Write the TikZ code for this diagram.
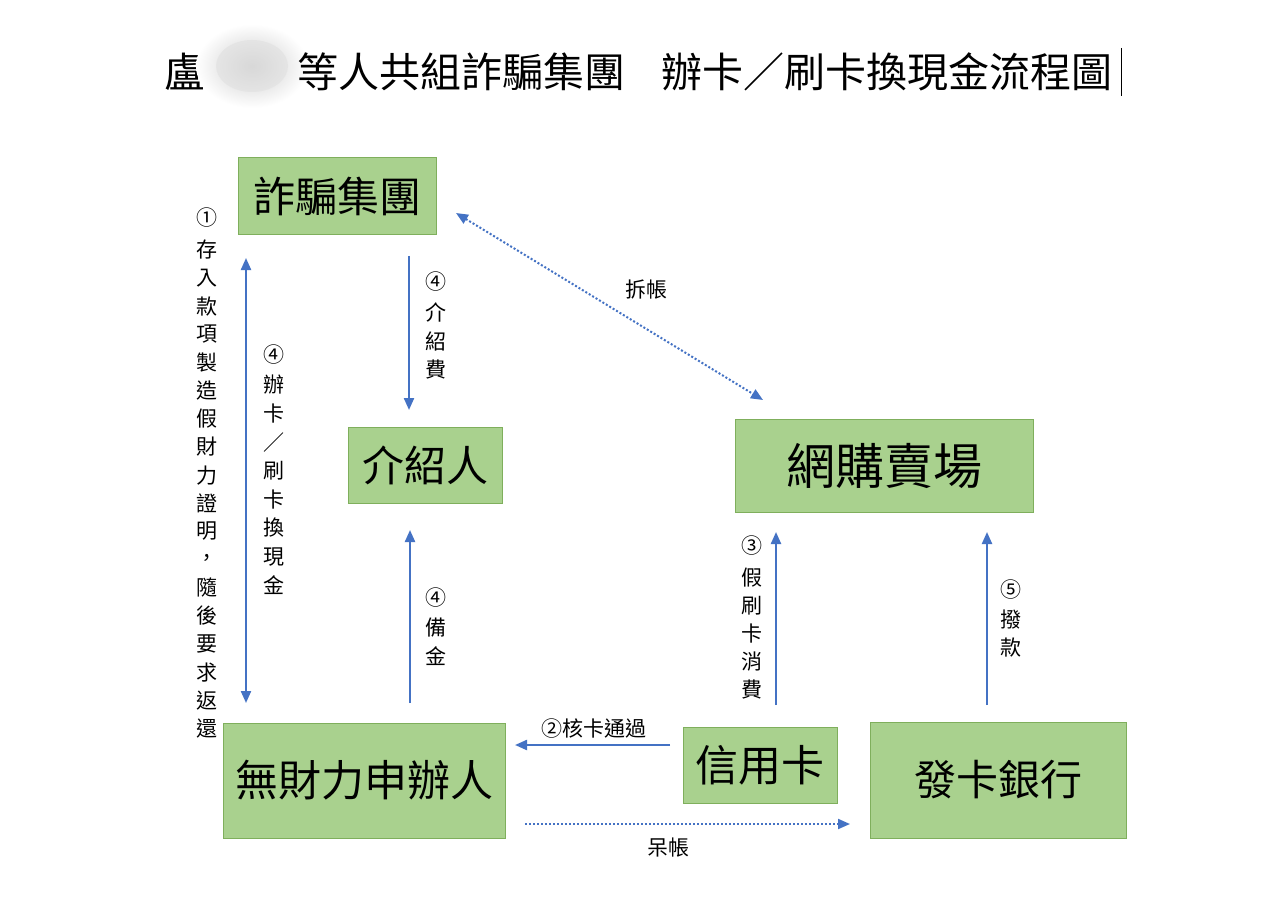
\documentclass[tikz,border=0pt]{standalone}
\usepackage{fontspec}
\setmainfont{Noto Sans CJK TC}
\usetikzlibrary{arrows.meta}
\definecolor{boxfill}{HTML}{A9D18E}
\definecolor{boxline}{HTML}{7FAF5C}
\definecolor{flowblue}{HTML}{4472C4}
\tikzset{
  box/.style={draw=boxline, line width=1pt, fill=boxfill, inner sep=0pt, text=black},
  lab/.style={inner sep=0pt, font=\fontsize{21}{21}\selectfont},
  ttl/.style={inner sep=0pt, font=\fontsize{41}{41}\selectfont},
  flow/.style={draw=flowblue, line width=2.2pt, -{Triangle[length=12pt,width=10pt]}},
  flowdot/.style={draw=flowblue, line width=2pt, dash pattern=on 2pt off 2pt, -{Triangle[length=12pt,width=10pt]}}
}
\begin{document}
\begin{tikzpicture}[x=1pt,y=-1pt]
\useasboundingbox (0,0) rectangle (1284,909);
\fill[white] (0,0) rectangle (1284,909);
% title
\node[ttl] (t1) at (185,72) {盧};
\shade[inner color=black!20, outer color=white] (252,66) ellipse [x radius=56, y radius=42];
\fill[black!12, opacity=0.6] (252,66) ellipse [x radius=36, y radius=26];
\node[ttl] (t2) at (461,72) {等人共組詐騙集團};
\node[ttl] (t3) at (887,72) {辦卡／刷卡換現金流程圖};
\draw[line width=1pt] (1121,48) -- (1121,96);
% boxes
\node[box, minimum width=198pt, minimum height=77pt, font=\fontsize{42}{42}\selectfont] (zp) at (337,196.5) {詐騙集團};
\node[box, minimum width=154pt, minimum height=76pt, font=\fontsize{42}{42}\selectfont] (js) at (425,465) {介紹人};
\node[box, minimum width=298pt, minimum height=93pt, font=\fontsize{49}{49}\selectfont] (wg) at (884,465.5) {網購賣場};
\node[box, minimum width=282pt, minimum height=115pt, font=\fontsize{43}{43}\selectfont] (wc) at (364,780.5) {無財力申辦人};
\node[box, minimum width=154pt, minimum height=76pt, font=\fontsize{43}{43}\selectfont] (xy) at (760,765) {信用卡};
\node[box, minimum width=256pt, minimum height=116pt, font=\fontsize{42}{42}\selectfont] (fk) at (998,780) {發卡銀行};
% connector end points
\coordinate (a1s) at (246,258); \coordinate (a1e) at (246,703);
\coordinate (a2s) at (409,256); \coordinate (a2e) at (409,410);
\coordinate (a3s) at (410,703); \coordinate (a3e) at (410,530);
\coordinate (a4s) at (670,745); \coordinate (a4e) at (515,745);
\coordinate (a5s) at (776,705); \coordinate (a5e) at (776,532);
\coordinate (a6s) at (987,705); \coordinate (a6e) at (987,532);
\coordinate (d1s) at (456,213); \coordinate (d1e) at (763,400);
\coordinate (d2s) at (525,824); \coordinate (d2e) at (850,824);
% connectors
\draw[flow, {Triangle[length=12pt,width=10pt]}-{Triangle[length=12pt,width=10pt]}] (a1s) -- (a1e);
\draw[flow] (a2s) -- (a2e);
\draw[flow] (a3s) -- (a3e);
\draw[flow] (a4s) -- (a4e);
\draw[flow] (a5s) -- (a5e);
\draw[flow] (a6s) -- (a6e);
\draw[flowdot, {Triangle[length=12pt,width=10pt]}-{Triangle[length=12pt,width=10pt]}] (d1s) -- (d1e);
\draw[flowdot] (d2s) -- (d2e);
% vertical labels
\node[lab] (n1) at (207,218) {①};
\foreach \c [count=\i from 0] in {存,入,款,項,製,造,假,財,力,證,明,，,隨,後,要,求,返,還}
  \node[lab] (c1-\i) at (207,250+28.15*\i) {\c};
\node[lab] (n2) at (274,355) {④};
\foreach \c [count=\i from 0] in {辦,卡,／,刷,卡,換,現,金}
  \node[lab] (c2-\i) at (274,385+28.6*\i) {\c};
\node[lab] (n3) at (436,282) {④};
\foreach \c [count=\i from 0] in {介,紹,費}
  \node[lab] (c3-\i) at (436,312+29*\i) {\c};
\node[lab] (n4) at (436,598) {④};
\foreach \c [count=\i from 0] in {備,金}
  \node[lab] (c4-\i) at (436,628+28*\i) {\c};
\node[lab] (n5) at (752,546) {③};
\foreach \c [count=\i from 0] in {假,刷,卡,消,費}
  \node[lab] (c5-\i) at (752,578+28*\i) {\c};
\node[lab] (n6) at (1011,590) {⑤};
\foreach \c [count=\i from 0] in {撥,款}
  \node[lab] (c6-\i) at (1011,620+28*\i) {\c};
% horizontal labels
\node[lab] (l1) at (646,290) {拆帳};
\node[lab] (l2) at (594,729) {②核卡通過};
\node[lab] (l3) at (668,848) {呆帳};
\end{tikzpicture}
\end{document}
